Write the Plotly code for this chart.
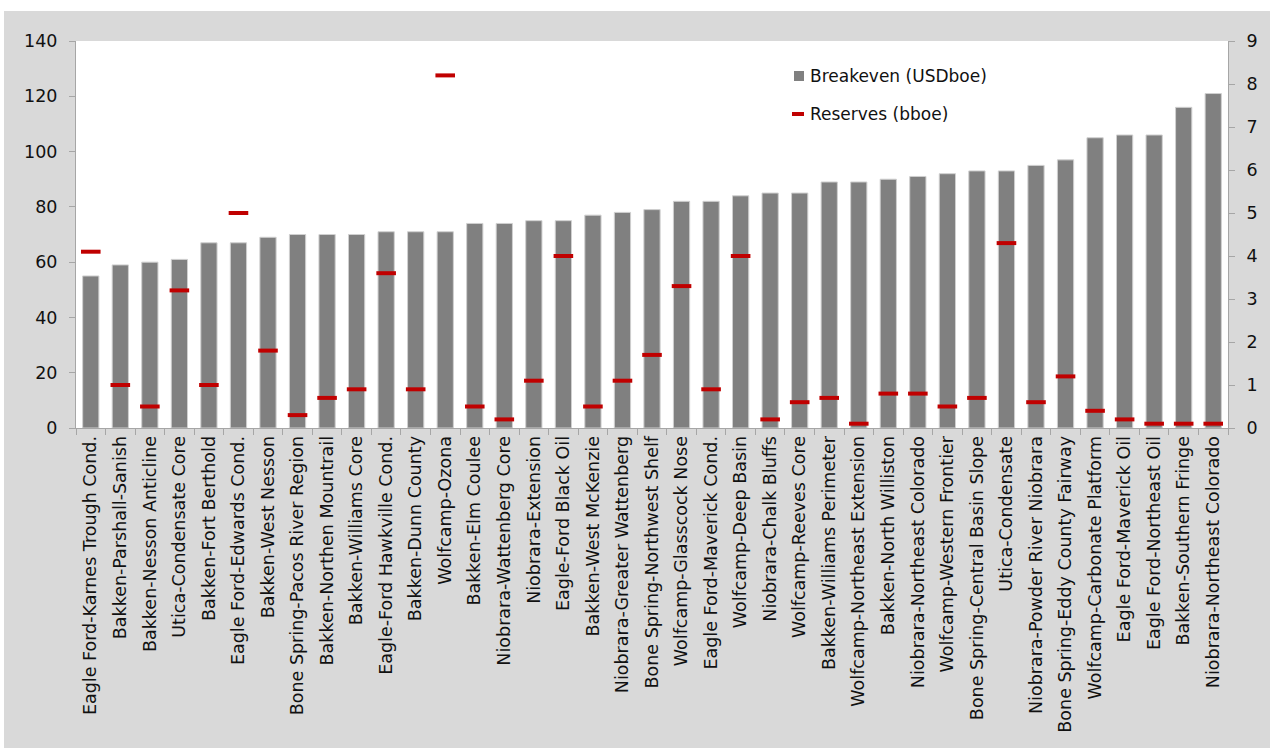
import plotly.graph_objects as go

categories = [
    "Eagle Ford-Karnes Trough Cond.", "Bakken-Parshall-Sanish", "Bakken-Nesson Anticline",
    "Utica-Condensate Core", "Bakken-Fort Berthold", "Eagle Ford-Edwards Cond.",
    "Bakken-West Nesson", "Bone Spring-Pacos River Region", "Bakken-Northen Mountrail",
    "Bakken-Williams Core", "Eagle-Ford Hawkville Cond.", "Bakken-Dunn County",
    "Wolfcamp-Ozona", "Bakken-Elm Coulee", "Niobrara-Wattenberg Core",
    "Niobrara-Extension", "Eagle-Ford Black Oil", "Bakken-West McKenzie",
    "Niobrara-Greater Wattenberg", "Bone Spring-Northwest Shelf", "Wolfcamp-Glasscock Nose",
    "Eagle Ford-Maverick Cond.", "Wolfcamp-Deep Basin", "Niobrara-Chalk Bluffs",
    "Wolfcamp-Reeves Core", "Bakken-Williams Perimeter", "Wolfcamp-Northeast Extension",
    "Bakken-North Williston", "Niobrara-Northeast Colorado", "Wolfcamp-Western Frontier",
    "Bone Spring-Central Basin Slope", "Utica-Condensate", "Niobrara-Powder River Niobrara",
    "Bone Spring-Eddy County Fairway", "Wolfcamp-Carbonate Platform", "Eagle Ford-Maverick Oil",
    "Eagle Ford-Northeast Oil", "Bakken-Southern Fringe", "Niobrara-Northeast Colorado",
]

breakeven = [55, 59, 60, 61, 67, 67, 69, 70, 70, 70, 71, 71, 71, 74, 74, 75, 75, 77, 78, 79,
             82, 82, 84, 85, 85, 89, 89, 90, 91, 92, 93, 93, 95, 97, 105, 106, 106, 116, 121]

reserves = [4.1, 1.0, 0.5, 3.2, 1.0, 5.0, 1.8, 0.3, 0.7, 0.9, 3.6, 0.9, 8.2, 0.5, 0.2, 1.1, 4.0,
            0.5, 1.1, 1.7, 3.3, 0.9, 4.0, 0.2, 0.6, 0.7, 0.1, 0.8, 0.8, 0.5, 0.7, 4.3, 0.6, 1.2,
            0.4, 0.2, 0.1, 0.1, 0.1]

left_ticks = [0, 20, 40, 60, 80, 100, 120, 140]
right_ticks = [0, 1, 2, 3, 4, 5, 6, 7, 8, 9]

series_names = ["Breakeven (USDboe)", "Reserves (bboe)"]
BAR_COLOR = "#808080"
RES_COLOR = "#C00000"

xpos = list(range(len(categories)))
FONT = "DejaVu Sans"

# plot area in pixels: left 76, right 1228, top 41, bottom 428
PL, PR, PT, PB = 76, 1228, 41, 428
def px_x(p):
    return (p - PL) / (PR - PL)
def px_y(p):
    return (PB - p) / (PB - PT)

fig = go.Figure()
fig.add_trace(go.Bar(
    x=xpos, y=breakeven, name=series_names[0],
    marker=dict(color=BAR_COLOR, line=dict(color="#D0D0D0", width=1)),
))
fig.add_trace(go.Scatter(
    x=xpos, y=reserves, name=series_names[1], mode="markers", yaxis="y2",
    marker=dict(symbol="line-ew", size=14, line=dict(color=RES_COLOR, width=4), color=RES_COLOR),
))

shapes = [
    dict(type="rect", xref="paper", yref="paper", x0=px_x(4), x1=px_x(1270), y0=px_y(748), y1=px_y(11),
         fillcolor="#D9D9D9", line=dict(width=0), layer="below"),
    dict(type="rect", xref="paper", yref="paper", x0=0, x1=1, y0=0, y1=1,
         fillcolor="white", line=dict(width=0), layer="below"),
    # legend symbols
    dict(type="rect", xref="paper", yref="paper", x0=px_x(794), x1=px_x(804), y0=px_y(81), y1=px_y(71),
         fillcolor=BAR_COLOR, line=dict(width=0)),
    dict(type="line", xref="paper", yref="paper", x0=px_x(792), x1=px_x(804), y0=px_y(114), y1=px_y(114),
         line=dict(color=RES_COLOR, width=4)),
]

annotations = [
    dict(xref="paper", yref="paper", x=px_x(808), y=px_y(76), text=series_names[0],
         showarrow=False, xanchor="left", yanchor="middle", font=dict(size=17, family=FONT, color="#111111")),
    dict(xref="paper", yref="paper", x=px_x(808), y=px_y(114), text=series_names[1],
         showarrow=False, xanchor="left", yanchor="middle", font=dict(size=17, family=FONT, color="#111111")),
]

fig.update_layout(
    width=1270, height=753,
    margin=dict(l=PL, r=1270 - PR, t=PT, b=753 - PB),
    paper_bgcolor="white", plot_bgcolor="white",
    bargap=0.45,
    font=dict(family=FONT, color="#111111"),
    showlegend=False,
    xaxis=dict(
        range=[-0.5, len(categories) - 0.5],
        tickmode="array", tickvals=xpos, ticktext=categories, tickangle=-90,
        ticks="", showline=True, linecolor="#A6A6A6", linewidth=1,
        tickfont=dict(size=17.5, family=FONT, color="#111111"),
        minor=dict(tick0=-0.5, dtick=1, ticks="outside", ticklen=6, tickcolor="#A6A6A6"),
        showgrid=False, zeroline=False,
    ),
    yaxis=dict(
        range=[0, 140], tickvals=left_ticks, ticks="outside", ticklen=6, tickcolor="#A6A6A6",
        showline=True, linecolor="#A6A6A6", linewidth=1, showgrid=False, zeroline=False,
        tickfont=dict(size=17.5, family=FONT, color="#111111"), ticklabelstandoff=8,
    ),
    yaxis2=dict(
        range=[0, 9], tickvals=right_ticks, overlaying="y", side="right",
        ticks="outside", ticklen=6, tickcolor="#A6A6A6",
        showline=True, linecolor="#A6A6A6", linewidth=1, showgrid=False, zeroline=False,
        tickfont=dict(size=17.5, family=FONT, color="#111111"), ticklabelstandoff=8,
    ),
    shapes=shapes,
    annotations=annotations,
)

fig.write_html("out.html")
